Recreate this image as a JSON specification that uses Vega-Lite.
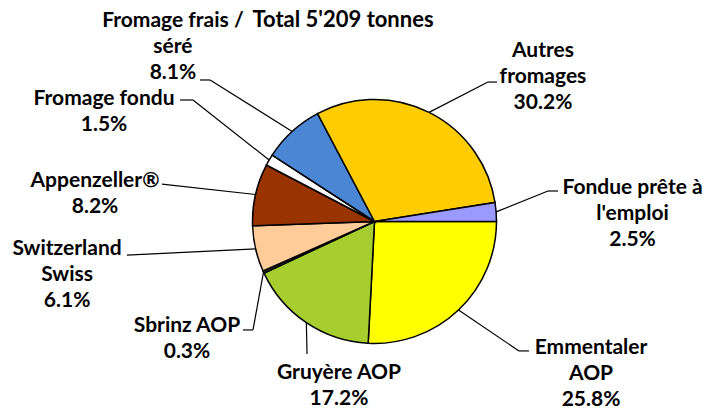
{
  "$schema": "https://vega.github.io/schema/vega-lite/v6.json",
  "width": 709,
  "height": 409,
  "padding": 0,
  "autosize": {"type": "none"},
  "background": "white",
  "config": {"view": {"stroke": null}},
  "datasets": {
    "cheese": [
      {"name": "Emmentaler|AOP", "pct": 25.8, "order": 1, "lx": 1.775, "ly": -1.086, "px": 1.184, "py": -1.061, "hx": 1.266},
      {"name": "Gruyère AOP", "pct": 17.2, "order": 2, "lx": -0.291, "ly": -1.291, "px": -0.553, "py": -1.086, "hx": -0.553},
      {"name": "Sbrinz AOP", "pct": 0.3, "order": 3, "lx": -1.537, "ly": -0.905, "px": -0.996, "py": -0.889, "hx": -1.078},
      {"name": "Switzerland|Swiss", "pct": 6.1, "order": 4, "lx": -2.520, "ly": -0.274, "px": -2.029, "py": -0.275, "hx": -2.029},
      {"name": "Appenzeller®", "pct": 8.2, "order": 5, "lx": -2.291, "ly": 0.283, "px": -1.742, "py": 0.307, "hx": -1.742},
      {"name": "Fromage fondu", "pct": 1.5, "order": 6, "lx": -2.217, "ly": 0.955, "px": -1.488, "py": 0.996, "hx": -1.594},
      {"name": "Fromage frais /|séré", "pct": 8.1, "order": 7, "lx": -1.652, "ly": 1.595, "px": -1.348, "py": 1.160, "hx": -1.430},
      {"name": "Autres|fromages", "pct": 30.2, "order": 8, "lx": 1.381, "ly": 1.349, "px": 0.930, "py": 1.143, "hx": 1.004},
      {"name": "Fondue prête à|l'emploi", "pct": 2.5, "order": 9, "lx": 2.115, "ly": 0.226, "px": 1.422, "py": 0.250, "hx": 1.504}
    ]
  },
  "data": {"name": "cheese"},
  "transform": [
    {"window": [{"op": "sum", "field": "pct", "as": "cum"}], "sort": [{"field": "order"}], "frame": [null, 0]},
    {"joinaggregate": [{"op": "sum", "field": "pct", "as": "total"}]},
    {"calculate": "PI / 2 + 2 * PI * (datum.cum - datum.pct / 2) / datum.total", "as": "mid"},
    {"calculate": "sin(datum.mid)", "as": "ex"},
    {"calculate": "cos(datum.mid)", "as": "ey"},
    {"calculate": "split(datum.name + '|' + format(datum.pct, '.1f') + '%', '|')", "as": "lines"}
  ],
  "layer": [
    {
      "mark": {"type": "arc", "outerRadius": 122, "stroke": "black", "strokeWidth": 1.5},
      "encoding": {
        "x": {"datum": 0, "type": "quantitative", "scale": {"domain": [-3.0697, 2.7418], "nice": false, "zero": false}, "axis": null},
        "y": {"datum": 0, "type": "quantitative", "scale": {"domain": [-1.5369, 1.8156], "nice": false, "zero": false}, "axis": null},
        "theta": {"field": "pct", "type": "quantitative", "stack": true, "scale": {"range": [1.5708, 7.854]}},
        "order": {"field": "order", "type": "quantitative"},
        "color": {
          "field": "name", "type": "nominal", "legend": null,
          "scale": {
            "domain": ["Emmentaler|AOP", "Gruyère AOP", "Sbrinz AOP", "Switzerland|Swiss", "Appenzeller®", "Fromage fondu", "Fromage frais /|séré", "Autres|fromages", "Fondue prête à|l'emploi"],
            "range": ["#FFFF00", "#A6CE2E", "#444444", "#FFCC99", "#993300", "#FFFFFF", "#4A86D4", "#FFCC00", "#9999FF"]
          }
        }
      }
    },
    {
      "mark": {"type": "rule", "stroke": "black", "strokeWidth": 1.2},
      "encoding": {
        "x": {"field": "ex", "type": "quantitative"},
        "y": {"field": "ey", "type": "quantitative"},
        "x2": {"field": "px"},
        "y2": {"field": "py"}
      }
    },
    {
      "mark": {"type": "rule", "stroke": "black", "strokeWidth": 1.2},
      "encoding": {
        "x": {"field": "px", "type": "quantitative"},
        "y": {"field": "py", "type": "quantitative"},
        "x2": {"field": "hx"},
        "y2": {"field": "py"}
      }
    },
    {
      "mark": {"type": "text", "font": "Lato", "fontWeight": "bold", "fontSize": 21, "align": "center", "baseline": "alphabetic", "lineHeight": 26, "color": "black"},
      "encoding": {
        "x": {"field": "lx", "type": "quantitative"},
        "y": {"field": "ly", "type": "quantitative"},
        "text": {"field": "lines"}
      }
    },
    {
      "data": {"values": [{"title": "Total 5'209 tonnes"}]},
      "mark": {"type": "text", "font": "Lato", "fontWeight": "bold", "fontSize": 22, "align": "center", "baseline": "alphabetic", "color": "black"},
      "encoding": {
        "x": {"datum": -0.258, "type": "quantitative"},
        "y": {"datum": 1.594, "type": "quantitative"},
        "text": {"field": "title"}
      }
    }
  ]
}
